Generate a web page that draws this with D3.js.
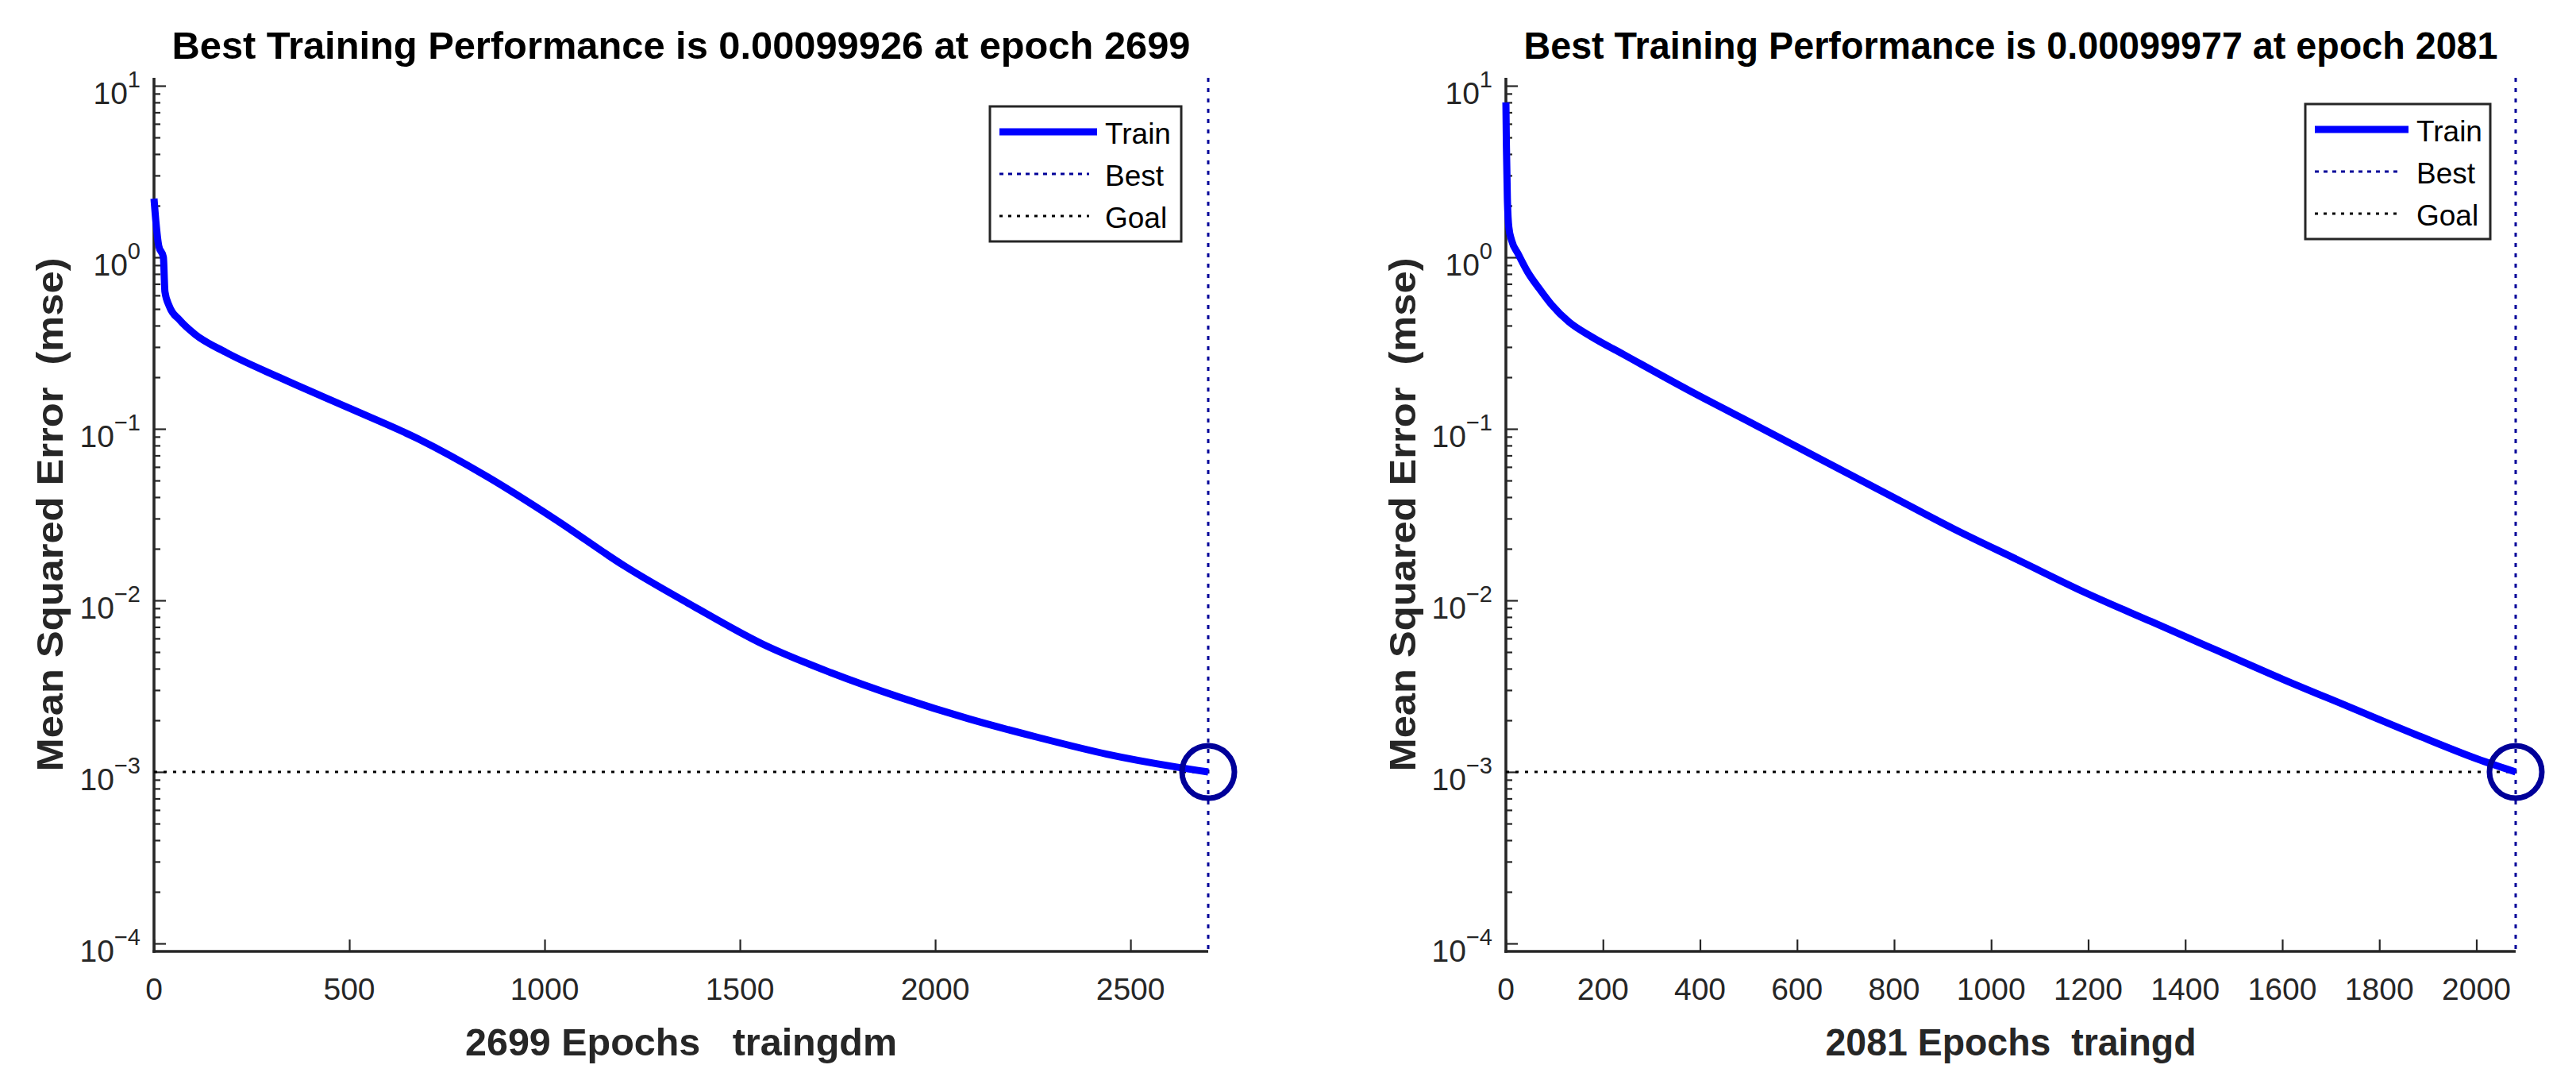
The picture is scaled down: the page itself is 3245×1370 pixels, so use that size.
<!DOCTYPE html>
<html><head><meta charset="utf-8">
<script src="https://cdn.jsdelivr.net/npm/d3@7"></script>
<style>
html,body{margin:0;padding:0;background:#fff;}
svg{display:block;font-family:"Liberation Sans",Arial,Helvetica,sans-serif;}
text{white-space:pre;}
</style></head><body>
<svg id="chart" width="3245" height="1370"></svg>
<script>
// ---------- data ----------
const leftEpochs = [0, 5, 12, 24, 28, 39, 66, 107, 183, 324, 500, 676, 852, 1028, 1204, 1381, 1557, 1733, 1910, 2086, 2263, 2439, 2615, 2699];
const leftMSE    = [2.2, 1.6, 1.17, 1.0, 0.63, 0.52, 0.43, 0.353, 0.28, 0.198, 0.132, 0.0875, 0.0528, 0.0296, 0.0159, 0.00925, 0.00558, 0.00379, 0.00272, 0.00204, 0.00159, 0.00127, 0.00107, 0.00099926];
const rightEpochs = [0, 1, 3, 6, 12, 25, 45, 70, 94, 130, 176, 244, 380, 515, 651, 787, 923, 1059, 1194, 1330, 1466, 1602, 1737, 1873, 2009, 2081];
const rightMSE    = [8.0, 4.5, 2.2, 1.5, 1.25, 1.05, 0.82, 0.65, 0.53, 0.42, 0.345, 0.27, 0.166, 0.105, 0.066, 0.0415, 0.0261, 0.0170, 0.0111, 0.00752, 0.0051, 0.00346, 0.0024, 0.00166, 0.00117, 0.00099977];
const leftXTicks  = [0, 500, 1000, 1500, 2000, 2500];
const rightXTicks = [0, 200, 400, 600, 800, 1000, 1200, 1400, 1600, 1800, 2000];
const yMajorExps  = [-4, -3, -2, -1, 0, 1];
const legendLabels = ["Train", "Best", "Goal"];
const goalValue = 0.001;
const leftBest  = {epoch: 2699, mse: 0.00099926};
const rightBest = {epoch: 2081, mse: 0.00099977};
const leftTitle  = "Best Training Performance is 0.00099926 at epoch 2699";
const rightTitle = "Best Training Performance is 0.00099977 at epoch 2081";
const leftXLabel  = "2699 Epochs   traingdm";
const rightXLabel = "2081 Epochs  traingd";
const yLabelText  = "Mean Squared Error  (mse)";

// ---------- drawing ----------
const svg = d3.select("#chart");
const AX = "#262626";
const TRAIN = "#0000ff";
const BEST = "#000099";

function panel(o) {
  const g = svg.append("g");
  const x = d3.scaleLinear().domain([0, o.best.epoch]).range([o.x0, o.x1]);
  const y = d3.scaleLog().domain([Math.pow(10, -4.0463), Math.pow(10, 1.0463)]).range([1198, 98]);
  const yBot = 1198, yTop = 98;

  // minor y ticks
  const minor = [];
  for (let k = -4; k <= 0; k++) for (let m = 2; m <= 9; m++) minor.push(m * Math.pow(10, k));
  g.append("g").attr("transform", `translate(${o.x0},0)`)
    .call(d3.axisLeft(y).tickValues(minor).tickSize(-8).tickFormat(""))
    .call(s => { s.select(".domain").remove(); s.selectAll("line").attr("stroke", AX).attr("stroke-width", 2.2); });
  // major y ticks
  const yMaj = yMajorExps.map(e => Math.pow(10, e));
  g.append("g").attr("transform", `translate(${o.x0},0)`)
    .call(d3.axisLeft(y).tickValues(yMaj).tickSize(-15).tickFormat(""))
    .call(s => { s.select(".domain").remove(); s.selectAll("line").attr("stroke", AX).attr("stroke-width", 2.2); });
  // y tick labels with superscripts
  yMajorExps.forEach(e => {
    const t = g.append("text").attr("x", o.x0 - 17).attr("y", y(Math.pow(10, e)) + 23)
      .attr("text-anchor", "end").attr("fill", AX).attr("font-size", 39);
    t.append("tspan").text("10");
    t.append("tspan").attr("dy", -21).attr("font-size", 29).text(e < 0 ? "\u2212" + (-e) : String(e));
  });

  // x ticks
  g.append("g").attr("transform", `translate(0,${yBot})`)
    .call(d3.axisBottom(x).tickValues(o.xTicks).tickSize(-15).tickFormat(""))
    .call(s => { s.select(".domain").remove(); s.selectAll("line").attr("stroke", AX).attr("stroke-width", 2.2); });
  g.append("g").selectAll("text").data(o.xTicks).join("text")
    .attr("x", d => x(d)).attr("y", 1259).attr("text-anchor", "middle")
    .attr("font-size", 39).attr("fill", AX).text(d => d);

  // axis lines
  g.append("line").attr("x1", o.x0).attr("x2", o.x0).attr("y1", yTop).attr("y2", yBot + 1.8)
    .attr("stroke", AX).attr("stroke-width", 3.6);
  g.append("line").attr("x1", o.x0 - 1.8).attr("x2", o.x1).attr("y1", yBot).attr("y2", yBot)
    .attr("stroke", AX).attr("stroke-width", 3.6);

  // goal line
  g.append("line").attr("x1", x(0)).attr("x2", x(o.best.epoch)).attr("y1", y(goalValue)).attr("y2", y(goalValue))
    .attr("stroke", "#000").attr("stroke-width", 3).attr("stroke-dasharray", "4,8");
  // best line
  g.append("line").attr("x1", x(o.best.epoch)).attr("x2", x(o.best.epoch)).attr("y1", yTop).attr("y2", yBot)
    .attr("stroke", BEST).attr("stroke-width", 3).attr("stroke-dasharray", "5,8");

  // train line
  const pts = o.epochs.map((e, i) => [e, o.mse[i]]);
  g.append("path").datum(pts)
    .attr("d", d3.line().x(d => x(d[0])).y(d => y(d[1])).curve(d3.curveMonotoneX))
    .attr("fill", "none").attr("stroke", TRAIN).attr("stroke-width", 9).attr("stroke-linejoin", "round");

  // best circle
  g.append("circle").attr("cx", x(o.best.epoch)).attr("cy", y(o.best.mse)).attr("r", 33)
    .attr("fill", "none").attr("stroke", BEST).attr("stroke-width", 7);

  // title
  g.append("text").attr("x", (o.x0 + o.x1) / 2).attr("y", 74).attr("text-anchor", "middle")
    .attr("font-weight", "bold").attr("font-size", 49).attr("fill", "#000")
    .attr("textLength", o.titleLen).attr("lengthAdjust", "spacingAndGlyphs").text(o.title);
  // x label
  g.append("text").attr("x", (o.x0 + o.x1) / 2).attr("y", 1329).attr("text-anchor", "middle")
    .attr("font-weight", "bold").attr("font-size", 48).attr("fill", AX)
    .attr("textLength", o.xLabelLen).attr("lengthAdjust", "spacingAndGlyphs").text(o.xLabel);
  // y label
  g.append("text").attr("transform", `translate(${o.yLabelX},648) rotate(-90)`).attr("text-anchor", "middle")
    .attr("font-weight", "bold").attr("font-size", 47).attr("fill", AX)
    .attr("textLength", 647).attr("lengthAdjust", "spacingAndGlyphs").text(yLabelText);

  // legend
  const L = o.legend;
  const lg = g.append("g");
  lg.append("rect").attr("x", L.x).attr("y", L.y).attr("width", L.w).attr("height", 170)
    .attr("fill", "#fff").attr("stroke", AX).attr("stroke-width", 3);
  const styles = [
    {stroke: TRAIN, w: 9, dash: null, len: L.lineLen},
    {stroke: BEST, w: 3, dash: "5,6", len: L.lineLen - 10},
    {stroke: "#000", w: 3, dash: "4,7", len: L.lineLen - 10}
  ];
  legendLabels.forEach((lab, i) => {
    const yy = L.y + 32 + i * 53;
    const st = styles[i];
    lg.append("line").attr("x1", L.x + 12).attr("x2", L.x + 12 + st.len).attr("y1", yy).attr("y2", yy)
      .attr("stroke", st.stroke).attr("stroke-width", st.w).attr("stroke-dasharray", st.dash);
    lg.append("text").attr("x", L.x + 12 + L.lineLen + 10).attr("y", yy + 15)
      .attr("font-size", 37).attr("fill", "#000").text(lab);
  });
}

panel({x0: 194, x1: 1522, epochs: leftEpochs, mse: leftMSE, best: leftBest, xTicks: leftXTicks,
  title: leftTitle, titleLen: 1283, xLabel: leftXLabel, xLabelLen: 544, yLabelX: 79,
  legend: {x: 1247, y: 134, w: 241, lineLen: 123}});
panel({x0: 1897, x1: 3169, epochs: rightEpochs, mse: rightMSE, best: rightBest, xTicks: rightXTicks,
  title: rightTitle, titleLen: 1227, xLabel: rightXLabel, xLabelLen: 467, yLabelX: 1783,
  legend: {x: 2904, y: 131, w: 233, lineLen: 118}});
</script>
</body></html>
